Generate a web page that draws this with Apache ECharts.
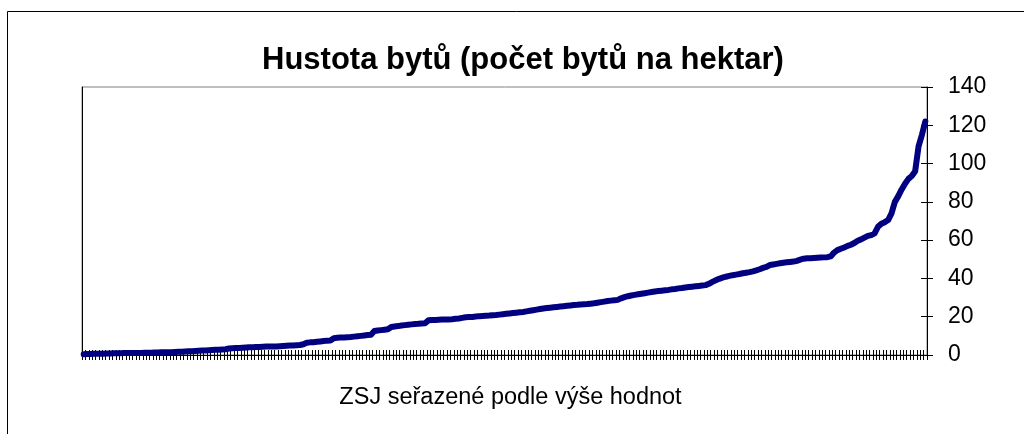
<!DOCTYPE html>
<html>
<head>
<meta charset="utf-8">
<script src="https://cdn.jsdelivr.net/npm/echarts@6/dist/echarts.min.js"></script>
<style>
html,body{margin:0;padding:0;background:#fff;}
#chart{width:1024px;height:434px;}
</style>
</head>
<body>
<div id="chart"></div>
<script>
var titleText = 'Hustota bytů (počet bytů na hektar)';
var xAxisName = 'ZSJ seřazené podle výše hodnot';
var yTicks = [0, 20, 40, 60, 80, 100, 120, 140];

var values = [
  0.4, 0.5, 0.5, 0.6, 0.6, 0.7, 0.7, 0.8, 0.8, 0.9,
  0.9, 0.9, 1.0, 1.0, 1.0, 1.1, 1.1, 1.1, 1.2, 1.2,
  1.2, 1.3, 1.3, 1.4, 1.4, 1.5, 1.5, 1.6, 1.7, 1.7,
  1.8, 1.9, 2.0, 2.1, 2.2, 2.3, 2.4, 2.5, 2.6, 2.7,
  2.8, 2.9, 3.0, 3.4, 3.5, 3.6, 3.7, 3.8, 3.9, 4.0,
  4.1, 4.2, 4.2, 4.3, 4.4, 4.4, 4.5, 4.5, 4.6, 4.7,
  4.8, 4.9, 5.0, 5.1, 5.2, 5.6, 6.4, 6.6, 6.7, 6.9,
  7.1, 7.3, 7.5, 7.6, 8.8, 9.0, 9.1, 9.2, 9.3, 9.4,
  9.6, 9.8, 10.0, 10.2, 10.4, 10.6, 12.5, 12.8, 13.0, 13.2,
  13.4, 14.6, 14.9, 15.1, 15.4, 15.6, 15.8, 16.0, 16.2, 16.3,
  16.5, 16.6, 18.1, 18.3, 18.3, 18.4, 18.5, 18.6, 18.6, 18.7,
  18.9, 19.1, 19.4, 19.7, 19.8, 19.9, 20.1, 20.3, 20.4, 20.5,
  20.6, 20.8, 20.9, 21.1, 21.3, 21.5, 21.7, 21.9, 22.1, 22.3,
  22.5, 22.8, 23.1, 23.4, 23.7, 24.0, 24.3, 24.5, 24.7, 24.9,
  25.1, 25.3, 25.5, 25.7, 25.9, 26.1, 26.2, 26.4, 26.5, 26.6,
  26.8, 27.0, 27.3, 27.6, 27.9, 28.2, 28.4, 28.6, 28.8, 29.6,
  30.2, 30.7, 31.1, 31.4, 31.7, 32.0, 32.3, 32.6, 32.9, 33.2,
  33.4, 33.6, 33.8, 34.0, 34.3, 34.5, 34.8, 35.0, 35.3, 35.5,
  35.7, 35.9, 36.1, 36.3, 36.5, 37.2, 38.2, 39.0, 39.8, 40.4,
  40.9, 41.3, 41.7, 42.0, 42.3, 42.7, 43.0, 43.3, 43.7, 44.2,
  44.8, 45.5, 46.0, 47.0, 47.3, 47.6, 47.9, 48.2, 48.4, 48.6,
  48.8, 49.2, 49.8, 50.3, 50.5, 50.6, 50.7, 50.8, 50.9, 51.0,
  51.1, 51.5, 53.5, 54.8, 55.5, 56.2, 57.0, 57.6, 58.5, 59.7,
  60.4, 61.3, 62.2, 62.6, 63.5, 67.0, 68.6, 69.4, 70.5, 74.0,
  80.0, 83.0, 86.5, 89.5, 92.0, 93.5, 96.0, 109.0, 115.0, 122.0
];

var categories = values.map(function (v, i) { return String(i + 1); });

var chart = echarts.init(document.getElementById('chart'), null, {renderer: 'canvas'});
var font = '"Liberation Sans", Arial, sans-serif';

var catAxisBase = {
  type: 'category',
  data: categories,
  boundaryGap: true,
  position: 'bottom',
  axisLabel: {show: false},
  splitLine: {show: false}
};

var valAxisBase = {
  type: 'value',
  min: 0,
  max: 140,
  interval: 20,
  position: 'right',
  splitLine: {show: false}
};

chart.setOption({
  animation: false,
  backgroundColor: '#ffffff',
  title: {
    text: titleText,
    left: 257,
    top: 40,
    textStyle: {fontFamily: font, fontSize: 31, fontWeight: 'bold', color: '#000'}
  },
  grid: {
    left: 82, top: 87, right: 97, bottom: 79,
    show: true, borderColor: '#808080', borderWidth: 1, backgroundColor: 'transparent'
  },
  graphic: [{
    type: 'rect',
    shape: {x: 7.5, y: 11.5, width: 1100, height: 500},
    style: {fill: 'none', stroke: '#000', lineWidth: 1},
    silent: true
  }],
  xAxis: [
    Object.assign({}, catAxisBase, {
      name: xAxisName,
      nameLocation: 'middle',
      nameGap: 31,
      nameTextStyle: {fontFamily: font, fontSize: 23.5, color: '#000', padding: [0, 0, 0, 12]},
      axisLine: {show: true, lineStyle: {color: '#000', width: 1}},
      axisTick: {show: true, interval: 0, inside: false, length: 5, lineStyle: {color: '#000', width: 1}}
    }),
    Object.assign({}, catAxisBase, {
      axisLine: {show: false},
      axisTick: {show: true, interval: 0, inside: true, length: 5, lineStyle: {color: '#000', width: 1}}
    })
  ],
  yAxis: [
    Object.assign({}, valAxisBase, {
      axisLine: {show: true, lineStyle: {color: '#000', width: 1}},
      axisTick: {show: true, inside: false, length: 6, lineStyle: {color: '#000', width: 1}},
      axisLabel: {show: true, margin: 21, align: 'left', fontFamily: font, fontSize: 23, color: '#000',
        formatter: function (v) { return yTicks.indexOf(v) >= 0 ? String(v) : ''; }}
    }),
    Object.assign({}, valAxisBase, {
      axisLine: {show: false},
      axisTick: {show: true, inside: true, length: 6, lineStyle: {color: '#000', width: 1}},
      axisLabel: {show: false}
    }),
    Object.assign({}, valAxisBase, {
      position: 'left',
      axisLine: {show: true, lineStyle: {color: '#000', width: 1}},
      axisTick: {show: false},
      axisLabel: {show: false}
    })
  ],
  series: [{
    type: 'line',
    data: values,
    xAxisIndex: 0,
    yAxisIndex: 0,
    symbol: 'none',
    smooth: false,
    lineStyle: {color: '#000080', width: 6, cap: 'round', join: 'round'},
    z: 5
  }]
});
</script>
</body>
</html>
